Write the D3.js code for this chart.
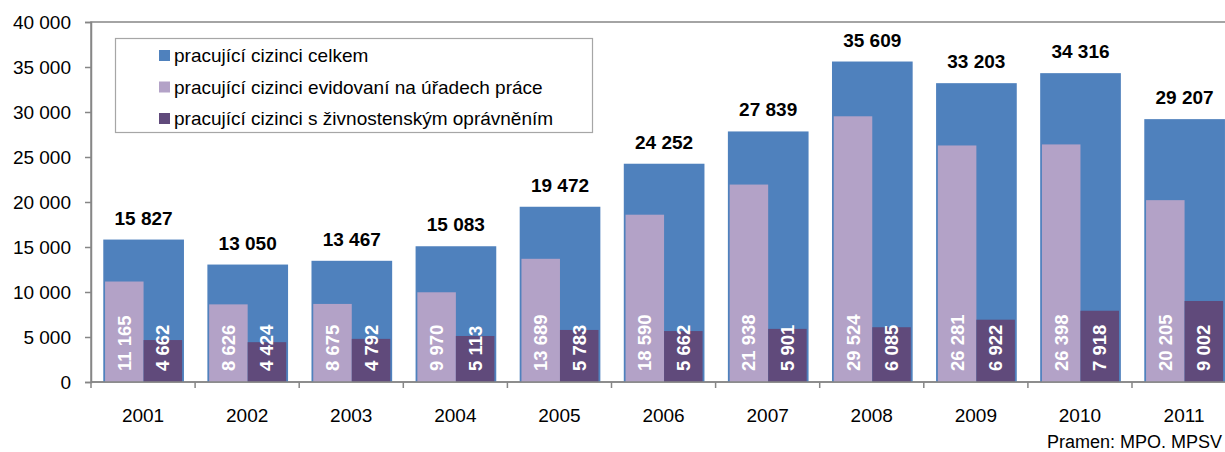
<!DOCTYPE html>
<html lang="cs">
<head>
<meta charset="UTF-8">
<title>Pracující cizinci</title>
<style>
    body { margin: 0; background: #fff; }
    svg { display: block; font-family: "Liberation Sans", Arial, sans-serif; }
</style>
</head>
<body>
<svg id="chart"></svg>
<script src="https://cdn.jsdelivr.net/npm/d3@7/dist/d3.min.js"></script>
<script>

    const years = ['2001', '2002', '2003', '2004', '2005', '2006', '2007', '2008', '2009', '2010', '2011']
    const celkem = [15827, 13050, 13467, 15083, 19472, 24252, 27839, 35609, 33203, 34316, 29207]
    const evidovani = [11165, 8626, 8675, 9970, 13689, 18590, 21938, 29524, 26281, 26398, 20205]
    const zivnost = [4662, 4424, 4792, 5113, 5783, 5662, 5901, 6085, 6922, 7918, 9002]
    const yTicks = [0, 5000, 10000, 15000, 20000, 25000, 30000, 35000, 40000]
    const legendLabels = [
        'pracující cizinci celkem',
        'pracující cizinci evidovaní na úřadech práce',
        'pracující cizinci s živnostenským oprávněním'
    ]
    const colors = ['#4f81bd', '#b3a2c7', '#604a7b']
    const source = 'Pramen: MPO. MPSV'

    const W = 1225, H = 452
    const plotLeft = 91, plotTop = 22, plotBottom = 382
    const step = 104.1

    const svg = d3.select('#chart').attr('width', W).attr('height', H)

    const x = d3.scaleBand().domain(years).range([plotLeft, plotLeft + step * years.length]).padding(0)
    const y = d3.scaleLinear().domain([0, 40000]).range([plotBottom, plotTop])
    const bw = x.bandwidth()

    const fmt = v => d3.format(',')(v).replace(/,/g, ' ')

    // plot area border
    svg.append('rect')
        .attr('x', plotLeft).attr('y', plotTop)
        .attr('width', step * years.length).attr('height', plotBottom - plotTop)
        .attr('fill', 'none').attr('stroke', '#868686').attr('stroke-width', 1.5)

    // total bars (behind)
    svg.append('g').selectAll('rect').data(celkem).enter().append('rect')
        .attr('x', (d, i) => x(years[i]) + bw * 0.118)
        .attr('width', bw * 0.775)
        .attr('y', d => y(d))
        .attr('height', d => plotBottom - y(d))
        .attr('fill', colors[0])

    svg.append('g').selectAll('rect').data(evidovani).enter().append('rect')
        .attr('x', (d, i) => x(years[i]) + bw * 0.135)
        .attr('width', bw * 0.37)
        .attr('y', d => y(d))
        .attr('height', d => plotBottom - y(d))
        .attr('fill', colors[1])

    svg.append('g').selectAll('rect').data(zivnost).enter().append('rect')
        .attr('x', (d, i) => x(years[i]) + bw * 0.505)
        .attr('width', bw * 0.37)
        .attr('y', d => y(d))
        .attr('height', d => plotBottom - y(d))
        .attr('fill', colors[2])

    // total labels
    svg.append('g').selectAll('text').data(celkem).enter().append('text')
        .attr('x', (d, i) => x(years[i]) + bw * 0.505)
        .attr('y', d => y(d) - 15)
        .attr('text-anchor', 'middle')
        .attr('font-size', 19).attr('font-weight', 'bold').attr('fill', '#000')
        .text(fmt)

    // inner rotated labels
    function inner(data, off) {
        svg.append('g').selectAll('text').data(data).enter().append('text')
            .attr('transform', (d, i) => `translate(${x(years[i]) + bw * off},${plotBottom - 11}) rotate(-90)`)
            .attr('dominant-baseline', 'central')
            .attr('font-size', 18.5).attr('font-weight', 'bold').attr('fill', '#fff')
            .text(fmt)
    }
    inner(evidovani, 0.135 + 0.185)
    inner(zivnost, 0.505 + 0.185)

    // y axis
    const yAxis = svg.append('g')
        .attr('transform', `translate(${plotLeft},0)`)
        .call(d3.axisLeft(y).tickValues(yTicks).tickFormat(fmt).tickSize(6).tickPadding(14))
    yAxis.select('.domain').attr('stroke', '#868686').attr('stroke-width', 1.5)
    yAxis.selectAll('.tick line').attr('stroke', '#868686').attr('stroke-width', 1.5)
    yAxis.selectAll('.tick text').attr('font-size', 19).attr('fill', '#000')
        .attr('font-family', '"Liberation Sans", Arial, sans-serif')

    // x axis
    const xAxis = svg.append('g').attr('transform', `translate(0,${plotBottom})`)
    xAxis.append('line')
        .attr('x1', plotLeft).attr('x2', plotLeft + step * years.length)
        .attr('stroke', '#868686').attr('stroke-width', 1.5)
    xAxis.selectAll('line.tk').data(d3.range(years.length + 1)).enter().append('line')
        .attr('class', 'tk')
        .attr('x1', i => plotLeft + step * i).attr('x2', i => plotLeft + step * i)
        .attr('y1', 0).attr('y2', 6)
        .attr('stroke', '#868686').attr('stroke-width', 1.5)
    xAxis.selectAll('text').data(years).enter().append('text')
        .attr('x', d => x(d) + bw / 2)
        .attr('y', 40)
        .attr('text-anchor', 'middle')
        .attr('font-size', 19).attr('fill', '#000')
        .text(d => d)

    // legend
    const lg = svg.append('g')
    lg.append('rect')
        .attr('x', 115.5).attr('y', 38.5).attr('width', 477).attr('height', 94)
        .attr('fill', '#fff').attr('stroke', '#a6a6a6').attr('stroke-width', 1.2)
    legendLabels.forEach((t, i) => {
        const cy = 55.5 + i * 31.5
        lg.append('rect').attr('x', 159).attr('y', cy - 5.5).attr('width', 11).attr('height', 11)
            .attr('fill', colors[i])
        lg.append('text').attr('x', 174).attr('y', cy).attr('dominant-baseline', 'central')
            .attr('font-size', 19).attr('fill', '#000').text(t)
    })

    svg.append('text')
        .attr('x', 1222).attr('y', 448)
        .attr('text-anchor', 'end')
        .attr('font-size', 18).attr('fill', '#000')
        .text(source)
</script>
</body>
</html>
